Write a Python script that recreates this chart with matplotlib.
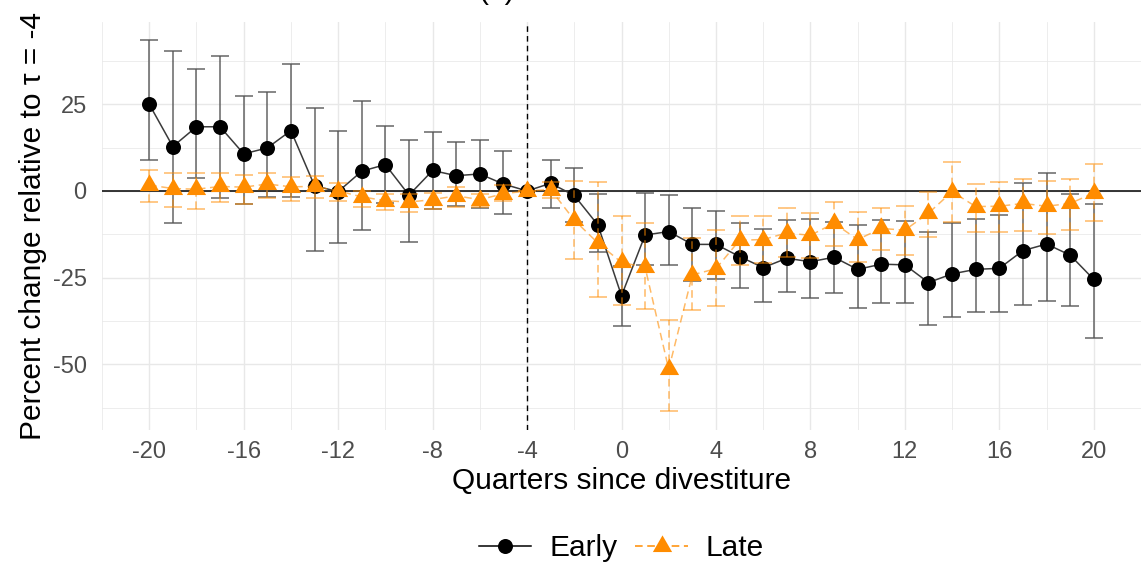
import numpy as np
import matplotlib
matplotlib.use('Agg')
import matplotlib.pyplot as plt
from matplotlib.path import Path
from matplotlib.lines import Line2D

plt.rcParams['font.family'] = ['Liberation Sans', 'DejaVu Sans']
plt.rcParams['axes.unicode_minus'] = False

# Event-study estimates (percent change relative to tau = -4) with 95% CIs
quarters = list(range(-20, 21))

early_est = [25.0, 12.8, 18.5, 18.5, 10.7, 12.4, 17.4, 1.5, -0.2, 5.7, 7.6, -1.2,
             5.9, 4.4, 4.9, 2.0, 0.0, 2.2, -1.3, -9.8, -30.2, -12.7, -11.7, -15.4,
             -15.4, -18.9, -22.1, -19.4, -20.4, -19.1, -22.6, -21.1, -21.3, -26.4,
             -23.9, -22.6, -22.3, -17.2, -15.3, -18.5, -25.5]
early_hi = [43.4, 40.4, 35.2, 39.0, 27.3, 28.6, 36.5, 24.0, 17.3, 25.8, 18.8, 14.6,
            17.0, 14.0, 14.6, 11.5, 0.0, 8.9, 6.7, -1.0, -21.5, -0.5, -1.3, -5.0,
            -5.8, -9.1, -11.0, -8.4, -8.2, -9.0, -9.8, -8.4, -8.7, -11.7, -9.1,
            -8.0, -6.9, 2.4, 5.1, -0.9, -3.8]
early_lo = [8.9, -9.3, 3.7, -2.0, -3.7, -1.8, -1.7, -17.3, -15.0, -11.2, -3.6, -14.7,
            -5.2, -4.2, -4.8, -6.7, 0.0, -5.0, -9.0, -17.5, -38.9, -21.3, -21.3, -26.0,
            -25.5, -27.9, -32.1, -29.1, -30.9, -29.3, -33.8, -32.4, -32.2, -38.5,
            -36.4, -35.0, -35.0, -32.9, -31.6, -33.1, -42.3]

late_est = [1.7, 0.7, 0.5, 1.3, 1.1, 2.0, 1.2, 1.3, 0.0, -1.7, -2.8, -3.2, -2.5,
            -1.4, -2.5, -0.8, 0.0, 0.4, -8.4, -15.0, -20.6, -22.0, -51.4, -24.2,
            -22.4, -14.2, -14.0, -12.1, -12.8, -9.3, -14.0, -10.8, -11.3, -6.4,
            -0.2, -4.5, -4.4, -3.6, -4.4, -3.6, -0.6]
late_hi = [6.1, 5.1, 5.1, 5.3, 4.7, 5.1, 3.9, 4.3, 2.4, 0.1, -0.9, -0.9, -0.7, 1.2,
           -0.9, 1.8, 0.0, 2.5, 3.0, 2.7, -7.2, -9.3, -37.2, -13.5, -11.2, -7.2,
           -7.2, -5.0, -6.4, -3.1, -6.1, -5.0, -4.2, -0.4, 8.3, 2.0, 2.7, 3.4, 2.9,
           3.5, 7.7]
late_lo = [-3.1, -4.7, -5.1, -3.3, -3.7, -2.1, -2.9, -2.1, -2.9, -4.5, -5.5, -6.1,
           -5.3, -4.5, -4.5, -2.9, 0.0, -2.0, -19.7, -30.5, -33.0, -34.0, -63.5,
           -34.3, -33.1, -21.3, -20.7, -19.0, -19.2, -16.0, -20.5, -17.0, -18.5,
           -13.2, -9.0, -11.9, -11.7, -11.4, -12.4, -11.2, -8.7]

x_ticks = [-20, -16, -12, -8, -4, 0, 4, 8, 12, 16, 20]
y_ticks = [-50, -25, 0, 25]
ref_quarter = -4

ORANGE = '#ff8c00'

# triangle centred on its centroid (like R's pch 17)
tri = Path([(0, 1.555), (1.347, -0.778), (-1.347, -0.778), (0, 1.555)],
           [Path.MOVETO, Path.LINETO, Path.LINETO, Path.CLOSEPOLY])

W, H = 1143, 567
fig = plt.figure(figsize=(W / 100, H / 100), dpi=100)
ax = fig.add_axes([102 / W, 1 - 430 / H, (1141 - 102) / W, (430 - 22) / H])

ax.set_xlim(-22, 22)
ax.set_ylim(-68.9, 48.7)

# grid: major + minor
for v in np.arange(-22, 23, 2):
    major = v in x_ticks
    ax.axvline(v, color='#e8e8e8', lw=1.0 if major else 0.55, zorder=0)
for v in [-62.5, -50, -37.5, -25, -12.5, 0, 12.5, 25, 37.5]:
    major = v in y_ticks
    ax.axhline(v, color='#e8e8e8', lw=1.0 if major else 0.55, zorder=0)

ax.axhline(0, color='black', lw=1.1, zorder=1)
ax.axvline(ref_quarter, color='black', lw=1.0, ls=(0, (4, 3)), zorder=1)

q = np.array(quarters)
e = np.array(early_est)
l = np.array(late_est)

# early series
ax.errorbar(q, e, yerr=[e - np.array(early_lo), np.array(early_hi) - e], fmt='none',
            ecolor='#555555', elinewidth=1.1, capsize=6.5, capthick=1.1,
            alpha=0.9, zorder=2)
ax.plot(q, e, color='#3a3a3a', lw=1.1, zorder=3)
ax.plot(q, e, 'o', color='black', ms=10.8, mew=0, zorder=4)

# late series
eb = ax.errorbar(q, l, yerr=[l - np.array(late_lo), np.array(late_hi) - l], fmt='none',
                 ecolor=ORANGE, elinewidth=1.1, capsize=6.5, capthick=1.1,
                 alpha=0.6, zorder=5)
eb[2][0].set_linestyle((0, (5, 3)))
ax.plot(q, l, color=ORANGE, lw=1.1, ls=(0, (5, 3)), alpha=0.6, zorder=6)
ax.plot(q, l, ls='none', marker=tri, color=ORANGE, ms=16, mew=0, zorder=7)

for s in ax.spines.values():
    s.set_visible(False)
ax.tick_params(length=0, labelsize=17, labelcolor='#4d4d4d')
ax.tick_params(axis='x', pad=8)
ax.tick_params(axis='y', pad=11)
ax.set_xticks(x_ticks)
ax.set_xticklabels([str(t) for t in x_ticks])
ax.set_yticks(y_ticks)
ax.set_yticklabels([str(t) for t in y_ticks])

ax.set_xlabel('Quarters since divestiture', fontsize=21.5, labelpad=3)
ax.set_ylabel('Percent change relative to τ = -4', fontsize=21.5, labelpad=4)

fig.text(496 / W, 1.002, '(a)', ha='center', va='baseline', fontsize=21.5)

handles = [
    Line2D([], [], color='black', lw=1.1, marker='o', ms=10.8, mew=0),
    Line2D([], [], color=ORANGE, lw=1.1, ls=(0, (5, 3)), marker=tri, ms=16, mew=0),
]
leg = fig.legend(handles, ['Early', 'Late'], loc='center', ncol=2, frameon=False,
                 bbox_to_anchor=(621.5 / W, 1 - 548 / H), fontsize=21.5,
                 handlelength=1.75, handletextpad=0.6, columnspacing=0.6)

fig.savefig('out.png', dpi=100)
